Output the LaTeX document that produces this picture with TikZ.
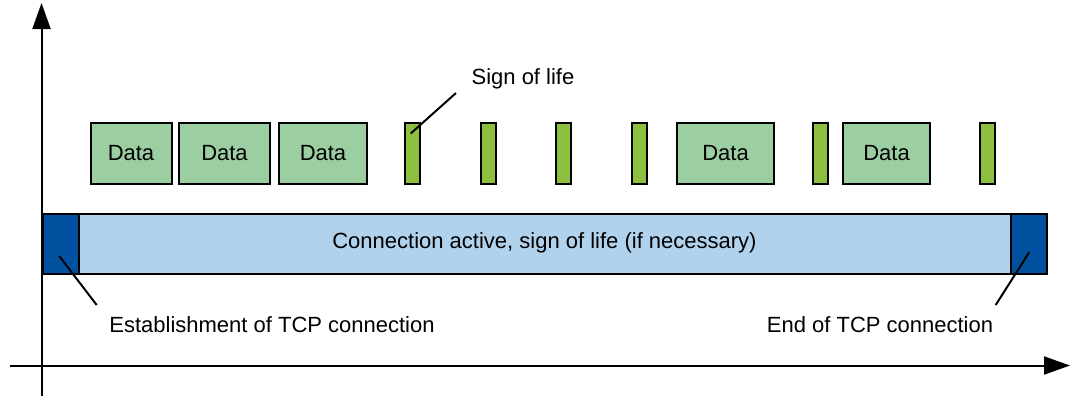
\documentclass[tikz,border=0pt]{standalone}
\usepackage{fontspec}
\setmainfont{Liberation Sans}
\usetikzlibrary{arrows.meta}
\definecolor{datagreen}{RGB}{155,207,162}
\definecolor{lifegreen}{RGB}{141,192,63}
\definecolor{darkblue}{RGB}{0,82,160}
\definecolor{lightblue}{RGB}{176,210,237}
% one drawing unit = 0.75pt
\tikzset{
  lbl/.style={font=\fontsize{16.5}{19}\selectfont, inner sep=0pt},
  box/.style={draw=black, line width=1.5pt, inner sep=0pt, anchor=center},
  wd/.style={minimum width=0.75*#1pt},
  ht/.style={minimum height=0.75*#1pt},
  databox/.style={box, fill=datagreen, ht=61, font=\fontsize{16.5}{19}\selectfont},
  lifebar/.style={box, fill=lifegreen, wd=15, ht=61},
  endbox/.style={box, fill=darkblue, wd=36, ht=60},
  axis/.style={line width=1.5pt, -{Triangle[length=19.5pt, width=13.5pt]}},
  leader/.style={line width=1.5pt}
}
\begin{document}
\begin{tikzpicture}[x=0.75pt, y=-0.75pt]
\useasboundingbox (0,0) rectangle (1072,396);

% time axes
\coordinate (yb) at (41.5,396);
\coordinate (yt) at (41.5,3);
\coordinate (xl) at (10,365.5);
\coordinate (xr) at (1070,365.5);
\draw[axis] (yb) -- (yt);
\draw[axis] (xl) -- (xr);

% connection bar
\node[box, fill=lightblue, wd=1004, ht=60] (conn) at (544.7,244) {};
\node[endbox] (est) at (60.9,244) {};
\node[endbox] (fin) at (1029.2,244) {};
\node[lbl] (conntxt) at (544.5,243) {Connection active, sign of life (if necessary)};

% data packets
\node[databox, wd=81] (d1) at (131,153.5) {Data};
\node[databox, wd=91] (d2) at (224.5,153.5) {Data};
\node[databox, wd=88] (d3) at (323,153.5) {Data};
\node[databox, wd=97] (d4) at (725.5,153.5) {Data};
\node[databox, wd=87] (d5) at (886.5,153.5) {Data};

% keep-alive packets
\node[lifebar] (s1) at (412,153.5) {};
\node[lifebar] (s2) at (488,153.5) {};
\node[lifebar] (s3) at (563.7,153.5) {};
\node[lifebar] (s4) at (639.5,153.5) {};
\node[lifebar] (s5) at (820.8,153.5) {};
\node[lifebar] (s6) at (987,153.5) {};

% labels with leader lines
\node[lbl] (sol) at (523,79) {Sign of life};
\coordinate (solend) at (456,93);
\draw[leader] (solend) -- ([shift={(-1.3,-20)}]s1.center);

\node[lbl] (esttxt) at (272,325) {Establishment of TCP connection};
\coordinate (estend) at (96.7,305);
\draw[leader] ([shift={(-1.7,12)}]est.center) -- (estend);

\node[lbl] (fintxt) at (880,325) {End of TCP connection};
\coordinate (finend) at (995.7,305);
\draw[leader] ([shift={(0,8.3)}]fin.center) -- (finend);
\end{tikzpicture}
\end{document}
